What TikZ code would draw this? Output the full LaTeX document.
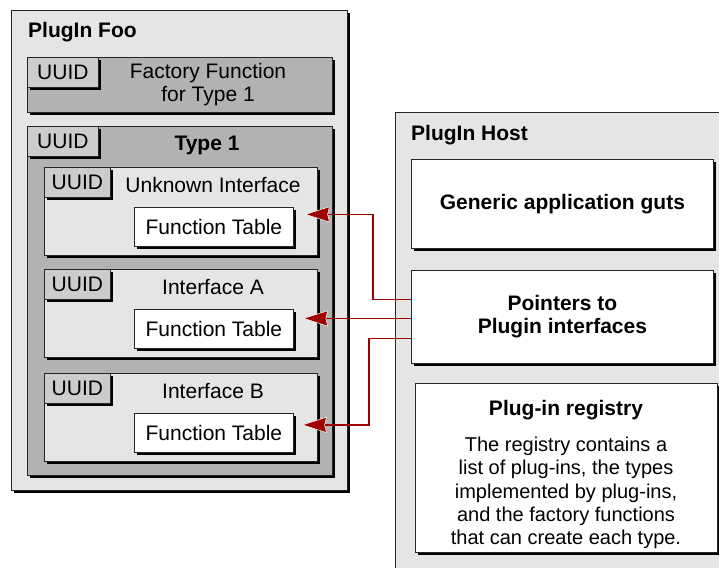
\documentclass[tikz,border=0pt]{standalone}
\usepackage{fontspec}
\setmainfont{Liberation Sans}
\usetikzlibrary{shapes, arrows.meta, shadows, calc, positioning}
\definecolor{plugpale}{gray}{0.9}
\definecolor{plugmid}{gray}{0.8}
\definecolor{plugdark}{gray}{0.7}
\definecolor{plugred}{rgb}{0.62, 0, 0}

\begin{document}
\begin{tikzpicture}[x=1pt, y=-1pt,
    every node/.style={font=\fontsize{21}{23}\selectfont, inner sep=0pt},
    heading/.style={font=\fontsize{21}{23}\selectfont\bfseries},
    panel/.style={draw=black!85, line width=0.8pt, anchor=north west,
      drop shadow={shadow xshift=3pt, shadow yshift=-3pt, fill=black, opacity=1}},
    uuid/.style={panel, fill=plugmid, minimum width=71pt, minimum height=30pt},
    ptr/.style={draw=plugred, line width=1.5pt,
      -{Stealth[length=25pt, width=16pt, inset=2pt, color=white, fill=plugred, line width=0.5pt]}}]
  \path[use as bounding box, clip] (0,0) rectangle (719,567);

  \node[panel, fill=plugpale, minimum width=336pt, minimum height=480pt] (foo) at (11,10) {};
  \node[heading, anchor=base west] (foot) at (28,38) {PlugIn Foo};
  \node[panel, fill=plugdark, minimum width=305pt, minimum height=55pt] (fact) at (27,57) {};
  \node[uuid] (factu) at (27,57) {UUID};
  \node[align=center] (factt) at (208,85) {Factory Function\\for Type 1};
  \node[panel, fill=plugdark, minimum width=305pt, minimum height=349pt] (type) at (27,126) {};
  \node[uuid] (typeu) at (27,126) {UUID};
  \node[heading] (typet) at (207,145) {Type 1};
  \foreach \n/\y/\lab in {1/167/Unknown Interface, 2/269/Interface A, 3/373/Interface B}{
    \node[panel, fill=plugpale, minimum width=273pt, minimum height=88pt] (I\n) at (44,\y) {};
    \node[uuid, minimum width=66pt] (U\n) at (44,\y) {UUID};
    \node (L\n) at (213,\y+18) {\lab};
    \node[panel, fill=white, minimum width=159pt, minimum height=39pt] (F\n) at (134,\y+40) {Function Table};
  }

  \node[panel, fill=plugpale, minimum width=400pt, minimum height=500pt] (host) at (395,112) {};
  \node[heading, anchor=base west] (hostt) at (411,140) {PlugIn Host};
  \node[panel, heading, fill=white, minimum width=302pt, minimum height=89pt] (guts) at (411,159) {Generic application guts};
  \node[panel, heading, fill=white, align=center, minimum width=302pt, minimum height=93pt] (ptrs) at (411,270) {Pointers to\\Plugin interfaces};
  \node[panel, fill=white, minimum width=302pt, minimum height=169pt] (reg) at (415,383) {};
  \node[heading] (regt) at (566,410) {Plug-in registry};
  \node[align=center, font=\fontsize{20}{23.3}\selectfont] (regb) at (566,493) {The registry contains a\\list of plug-ins, the types\\implemented by plug-ins,\\and the factory functions\\that can create each type.};

  \coordinate (t1) at ($(F1.east)+(11,-12.5)$);
  \coordinate (t2) at ($(ptrs.west)+(-108,1.5)$);
  \coordinate (t3) at ($(F3.east)+(8,-8)$);
  \draw[ptr] ($(ptrs.west)+(0,-17.5)$) -| ($(t1)+(68,0)$) -- (t1);
  \draw[ptr] ($(ptrs.west)+(0,1.5)$) -- (t2);
  \draw[ptr] ($(ptrs.west)+(0,21.5)$) -| ($(t3)+(67,0)$) -- (t3);
\end{tikzpicture}
\end{document}
